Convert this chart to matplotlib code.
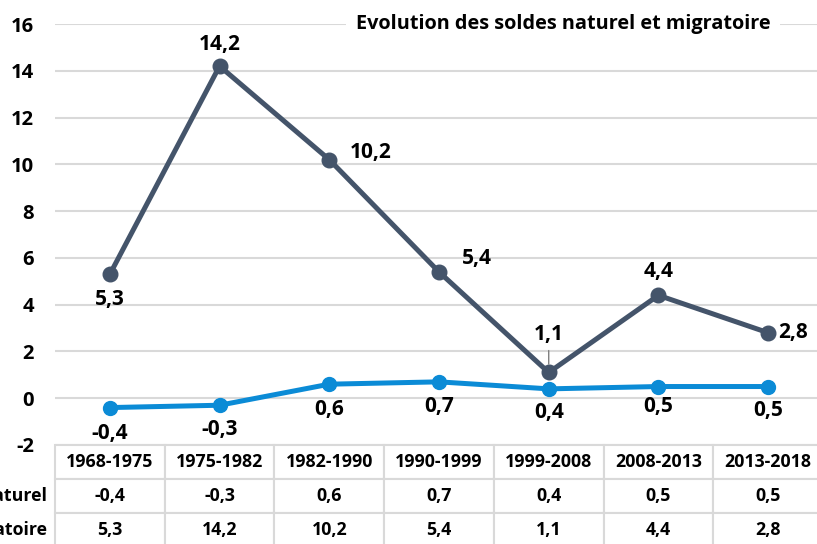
import matplotlib
matplotlib.use("Agg")
import matplotlib.pyplot as plt

# data
periods = ["1968-1975", "1975-1982", "1982-1990", "1990-1999",
           "1999-2008", "2008-2013", "2013-2018"]
solde_naturel = [-0.4, -0.3, 0.6, 0.7, 0.4, 0.5, 0.5]
solde_migratoire = [5.3, 14.2, 10.2, 5.4, 1.1, 4.4, 2.8]
row_labels = ["Solde naturel", "Solde migratoire"]
title = "Evolution des soldes naturel et migratoire"

DARK = "#44546A"
BLUE = "#0B8BD6"
GRID = "#D9D9D9"

plt.rcParams["font.family"] = ["Open Sans", "DejaVu Sans"]
plt.rcParams["font.weight"] = "bold"

FS = 15      # data labels
TICK_FS = 14.5
TAB_FS = 12.8


def fr(v):
    return f"{v:.1f}".replace(".", ",")


fig = plt.figure(figsize=(8.17, 5.44), dpi=100)
ax = fig.add_axes([55 / 817, 99 / 544, 768 / 817, 421 / 544])

x = list(range(len(periods)))
ax.plot(x, solde_migratoire, color=DARK, lw=3.6, marker="o", ms=10.5, zorder=3)
ax.plot(x, solde_naturel, color=BLUE, lw=3.6, marker="o", ms=10, zorder=3)

ax.set_xlim(-0.5, len(periods) - 0.5)
ax.set_ylim(-2, 16)
ax.set_yticks(range(-2, 17, 2))
ax.set_yticklabels([str(t) for t in range(-2, 17, 2)], fontsize=TICK_FS,
                   fontweight="bold")
ax.tick_params(axis="y", length=0, pad=15)
ax.set_xticks([])
ax.grid(axis="y", color=GRID, lw=1.5)
ax.set_axisbelow(True)
for s in ax.spines.values():
    s.set_visible(False)

# data labels, offsets in pixels
mig_offsets = [(0, -25), (0, 22), (41, 7), (38, 13), (0, 38), (0, 24), (25, 0)]
for i, (v, off) in enumerate(zip(solde_migratoire, mig_offsets)):
    kw = {}
    if i == 4:
        kw["arrowprops"] = dict(arrowstyle="-", color="#7F7F7F", lw=1,
                                shrinkA=2, shrinkB=6)
    ax.annotate(fr(v), (i, v), xytext=off, textcoords="offset pixels",
                ha="center", va="center", fontsize=FS, fontweight="bold", **kw)

nat_offsets = [(0, -26), (0, -24), (0, -25), (0, -25), (0, -24), (0, -20), (0, -24)]
for i, (v, off) in enumerate(zip(solde_naturel, nat_offsets)):
    ax.annotate(fr(v), (i, v), xytext=off, textcoords="offset pixels",
                ha="center", va="center", fontsize=FS, fontweight="bold")

ax.text(0.662, 16, title, transform=ax.get_yaxis_transform(), ha="center",
        va="center", fontsize=14.3, fontweight="bold",
        bbox=dict(facecolor="white", edgecolor="none", pad=7), zorder=4)

# data table under the plot
cells = [periods, [fr(v) for v in solde_naturel], [fr(v) for v in solde_migratoire]]
h = 102 / 421
tab = ax.table(cellText=cells, cellLoc="center", bbox=[0, -h, 1, h])
tab.auto_set_font_size(False)
for (r, c), cell in tab.get_celld().items():
    cell.set_edgecolor(GRID)
    cell.set_linewidth(1.5)
    cell.get_text().set_fontsize(TAB_FS)
    cell.get_text().set_fontweight("bold")

for k, lab in enumerate(row_labels):
    ax.text(-0.011, -h + (1.5 - k) * h / 3, lab, transform=ax.transAxes,
            ha="right", va="center", fontsize=TAB_FS, fontweight="bold")

fig.savefig("out.png", dpi=100)
